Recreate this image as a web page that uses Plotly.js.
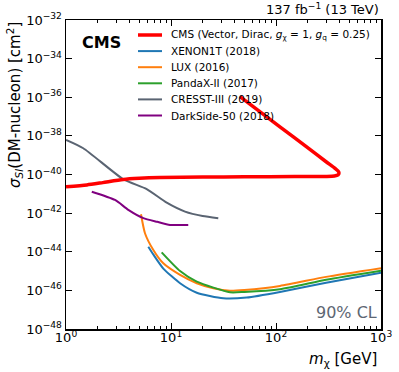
<!DOCTYPE html>
<html>
<head>
<meta charset="utf-8">
<script src="https://cdn.plot.ly/plotly-3.0.1.min.js"></script>
<style>
  html, body { margin: 0; padding: 0; background: #fff; }
  #dmPlot { width: 399px; height: 372px; }
</style>
</head>
<body>
<div id="dmPlot"></div>
<script>
// DM mass in GeV, cross sections kept as log10(sigma / cm^2)
let cmsMass = [1, 1.58, 2.24, 3.5, 5, 7.85, 20, 50, 150, 300, 360, 390, 398, 390, 365, 300, 200, 109, 45.4];
let cmsExp = [-40.64, -40.54, -40.42, -40.26, -40.2, -40.16, -40.13, -40.12, -40.11, -40.1, -40.08, -40.02, -39.92, -39.82, -39.68, -39.34, -38.61, -37.53, -35.97];

let xenonMass = [6.08, 6.8, 8.45, 12.2, 17.6, 31.5, 52.6, 109, 300, 1000];
let xenonExp = [-43.74, -44.15, -44.87, -45.63, -46.12, -46.41, -46.37, -46.08, -45.6, -45.08];

let luxMass = [5.18, 5.65, 6.79, 8.45, 12.2, 17.6, 25.3, 36.5, 50, 109, 300, 1000];
let luxExp = [-42.06, -43.04, -43.91, -44.6, -45.2, -45.63, -45.89, -46.02, -45.98, -45.77, -45.3, -44.85];

let pandaMass = [8.15, 12.2, 17.6, 36.5, 50, 109, 300, 1000];
let pandaExp = [-44.03, -45.0, -45.55, -46.1, -46.08, -45.94, -45.45, -44.98];

let cresstMass = [1.0, 1.46, 3.5, 5.87, 9.1, 13.6, 20, 28.2];
let cresstExp = [-38.21, -38.64, -40.24, -40.76, -41.46, -41.92, -42.15, -42.26];

let darksideMass = [1.76, 2.93, 3.92, 5.45, 7.4, 9.78, 14.6];
let darksideExp = [-40.89, -41.32, -41.83, -42.26, -42.45, -42.61, -42.61];

let seriesNames = [
  'CMS (Vector, Dirac, <i>g</i><sub>χ</sub> = 1, <i>g</i><sub>q</sub> = 0.25)',
  'XENON1T (2018)',
  'LUX (2016)',
  'PandaX-II (2017)',
  'CRESST-III (2019)',
  'DarkSide-50 (2018)'
];
let seriesColors = ['#ff0000', '#1f77b4', '#ff7f0e', '#2ca02c', '#5a6472', '#800080'];
let seriesWidths = [3.5, 2, 2, 2, 2, 2];

let xTickExps = [0, 1, 2, 3];
let yTickExps = [-48, -46, -44, -42, -40, -38, -36, -34, -32];

let font = 'DejaVu Sans';

function makeDmPlot(plotDiv) {
  let masses = [cmsMass, xenonMass, luxMass, pandaMass, cresstMass, darksideMass];
  let exps = [cmsExp, xenonExp, luxExp, pandaExp, cresstExp, darksideExp];

  // draw order: experiments first, CMS on top
  let order = [1, 2, 3, 4, 5, 0];
  let data = order.map(i => ({
    x: masses[i],
    y: exps[i].map(e => Math.pow(10, e)),
    type: 'scatter',
    mode: 'lines',
    name: seriesNames[i],
    line: { color: seriesColors[i], width: seriesWidths[i], shape: 'spline', smoothing: 0.6 },
    showlegend: false
  }));

  // minor ticks 2..9 in each decade
  let minorVals = [];
  for (let k = 0; k < 3; k++) {
    for (let d = 2; d < 10; d++) minorVals.push(d * Math.pow(10, k));
  }

  // hand-made legend (matplotlib spacing is tighter than plotly's)
  let shapes = [];
  let annotations = [];
  for (let i = 0; i < seriesNames.length; i++) {
    let py = 35 + i * 16.1;
    let yp = (329 - py) / 309;
    shapes.push({
      type: 'line', xref: 'paper', yref: 'paper',
      x0: (138 - 66) / 315, x1: (162 - 66) / 315, y0: yp, y1: yp,
      line: { color: seriesColors[i], width: seriesWidths[i] }
    });
    annotations.push({
      xref: 'paper', yref: 'paper',
      x: (169 - 66) / 315, y: yp,
      xanchor: 'left', yanchor: 'middle',
      showarrow: false,
      text: seriesNames[i],
      font: { family: font, size: 10.5, color: '#000' }
    });
  }

  annotations.push(
    {
      xref: 'paper', yref: 'paper', x: (80 - 66) / 315, y: (329 - 42) / 309,
      xanchor: 'left', yanchor: 'middle', showarrow: false,
      text: '<b>CMS</b>',
      font: { family: font, size: 16, color: '#000' }
    },
    {
      xref: 'paper', yref: 'paper', x: 1, y: 1.003,
      xanchor: 'right', yanchor: 'bottom', showarrow: false,
      text: '137 fb<sup>−1</sup> (13 TeV)',
      font: { family: font, size: 13, color: '#000' }
    },
    {
      xref: 'paper', yref: 'paper', x: 0.995, y: (329 - 312.5) / 309,
      xanchor: 'right', yanchor: 'middle', showarrow: false,
      text: '90% CL',
      font: { family: font, size: 16, color: '#5d6673' }
    },
    {
      xref: 'paper', yref: 'paper', x: 0.995, y: (329 - 359) / 309,
      xanchor: 'right', yanchor: 'middle', showarrow: false,
      text: '<i>m</i><sub>χ</sub> [GeV]',
      font: { family: font, size: 15, color: '#000' }
    },
    {
      xref: 'paper', yref: 'paper', x: (14 - 66) / 315, y: 1,
      xanchor: 'center', yanchor: 'top', showarrow: false,
      textangle: -90,
      text: '<i>σ</i><sub><i>SI</i></sub>(DM-nucleon) [cm<sup>2</sup>]',
      font: { family: font, size: 15, color: '#000' }
    }
  );

  let layout = {
    width: 399,
    height: 372,
    margin: { l: 66, r: 18, t: 20, b: 43 },
    paper_bgcolor: '#fff',
    plot_bgcolor: '#fff',
    font: { family: font, size: 13, color: '#000' },
    showlegend: false,
    xaxis: {
      type: 'log',
      range: [0, 3],
      tickvals: xTickExps.map(e => Math.pow(10, e)),
      ticktext: xTickExps.map(e => '10<sup>' + e + '</sup>'),
      ticks: 'inside',
      ticklen: 6,
      tickwidth: 1,
      tickcolor: '#000',
      ticklabelstandoff: -4,
      minor: { tickvals: minorVals, ticks: 'inside', ticklen: 3, tickcolor: '#000', showgrid: false },
      showline: true,
      linecolor: '#000',
      linewidth: 1.5,
      mirror: 'ticks',
      showgrid: false,
      zeroline: false,
      tickfont: { family: font, size: 13 }
    },
    yaxis: {
      type: 'log',
      range: [-48, -32],
      tickvals: yTickExps.map(e => Math.pow(10, e)),
      ticktext: yTickExps.map(e => '10<sup>' + String(e).replace('-', '−') + '</sup>'),
      ticks: 'inside',
      ticklen: 6,
      tickwidth: 1,
      tickcolor: '#000',
      showline: true,
      linecolor: '#000',
      linewidth: 1.5,
      mirror: 'ticks',
      showgrid: false,
      zeroline: false,
      tickfont: { family: font, size: 13 }
    },
    shapes: shapes,
    annotations: annotations
  };

  Plotly.newPlot(plotDiv, data, layout, { staticPlot: true });
}

makeDmPlot(document.getElementById('dmPlot'));
</script>
</body>
</html>
